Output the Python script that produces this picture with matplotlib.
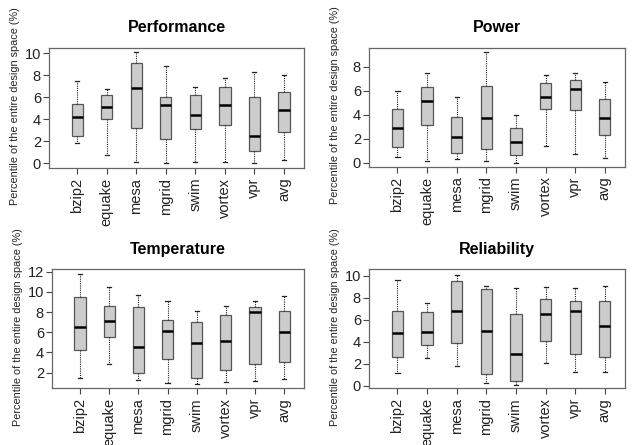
import matplotlib
matplotlib.use("Agg")
import matplotlib.pyplot as plt

plt.rcParams["font.family"] = ["Liberation Sans", "DejaVu Sans"]

BENCHES = ["bzip2", "equake", "mesa", "mgrid", "swim", "vortex", "vpr", "avg"]

# five-number summaries per bench: whisker low, q1, median, q3, whisker high
PERF_LO = [1.8, 0.7, 0.1, 0.0, 0.1, 0.1, 0.0, 0.3]
PERF_Q1 = [2.5, 4.0, 3.2, 2.2, 3.1, 3.5, 1.1, 2.8]
PERF_MED = [4.2, 5.1, 6.8, 5.3, 4.4, 5.3, 2.5, 4.8]
PERF_Q3 = [5.4, 6.2, 9.1, 6.0, 6.2, 6.9, 6.0, 6.5]
PERF_HI = [7.5, 6.7, 10.1, 8.8, 6.9, 7.7, 8.3, 8.0]

POW_LO = [0.5, 0.1, 0.3, 0.1, 0.0, 1.4, 0.7, 0.4]
POW_Q1 = [1.3, 3.1, 0.8, 1.1, 0.6, 4.5, 4.4, 2.3]
POW_MED = [2.9, 5.1, 2.1, 3.7, 1.7, 5.5, 6.1, 3.7]
POW_Q3 = [4.5, 6.3, 3.8, 6.4, 2.9, 6.6, 6.9, 5.3]
POW_HI = [6.0, 7.5, 5.5, 9.2, 4.0, 7.3, 7.5, 6.7]

TEMP_LO = [1.5, 2.9, 1.3, 1.0, 0.9, 1.1, 1.2, 1.4]
TEMP_Q1 = [4.2, 5.5, 2.0, 3.4, 1.5, 2.3, 2.9, 3.1]
TEMP_MED = [6.5, 7.1, 4.5, 6.1, 4.9, 5.1, 8.0, 6.0]
TEMP_Q3 = [9.5, 8.6, 8.5, 7.2, 7.0, 7.7, 8.5, 8.1]
TEMP_HI = [11.8, 10.5, 9.7, 9.1, 8.1, 8.6, 9.1, 9.6]

REL_LO = [1.2, 2.5, 1.8, 0.3, 0.1, 2.1, 1.3, 1.3]
REL_Q1 = [2.6, 3.7, 3.9, 1.1, 0.4, 4.1, 2.9, 2.6]
REL_MED = [4.8, 4.9, 6.8, 5.0, 2.9, 6.5, 6.8, 5.4]
REL_Q3 = [6.8, 6.7, 9.5, 8.8, 6.5, 7.9, 7.7, 7.7]
REL_HI = [9.6, 7.5, 10.1, 9.1, 8.9, 9.0, 8.9, 9.1]

W, H = 638, 445


def make_stats(lo, q1, med, q3, hi):
    return [
        dict(whislo=a, q1=b, med=c, q3=d, whishi=e, fliers=[])
        for a, b, c, d, e in zip(lo, q1, med, q3, hi)
    ]


def add_panel(fig, px, title, stats, ylim, yticks):
    left, right, top, bottom = px
    ax = fig.add_axes([left / W, 1 - bottom / H, (right - left) / W, (bottom - top) / H])
    ax.bxp(
        stats,
        positions=range(1, len(stats) + 1),
        widths=0.38,
        patch_artist=True,
        showfliers=False,
        capwidths=0.14,
        boxprops=dict(facecolor="#cccccc", edgecolor="#555555", linewidth=0.9),
        medianprops=dict(color="black", linewidth=1.8),
        whiskerprops=dict(color="#222222", linewidth=0.8, linestyle=(0, (1.0, 1.0))),
        capprops=dict(color="#222222", linewidth=0.9),
    )
    ax.set_xlim(0.05, 8.68)
    ax.set_ylim(*ylim)
    ax.set_yticks(yticks)
    ax.set_xticks(range(1, len(BENCHES) + 1))
    ax.set_xticklabels(BENCHES, rotation=90, fontsize=10.5, color="#222222")
    ax.tick_params(axis="y", labelsize=10.5, labelcolor="#222222", length=4, width=0.8,
                   color="#444444", pad=2)
    ax.tick_params(axis="x", length=4, width=0.8, color="#444444", pad=3)
    for s in ax.spines.values():
        s.set_color("#666666")
        s.set_linewidth(0.9)
    ax.set_title(title, fontsize=11.5, fontweight="bold", pad=11)
    fig.text((left - 34) / W, 1 - ((top + bottom) / 2 - 2) / H,
             "Percentile of the entire design space (%)",
             rotation=90, ha="center", va="center", fontsize=7.8, color="#222222")
    return ax


fig = plt.figure(figsize=(W / 100, H / 100), dpi=100)

add_panel(fig, (49.3, 304, 47.7, 168), "Performance",
          make_stats(PERF_LO, PERF_Q1, PERF_MED, PERF_Q3, PERF_HI),
          (-0.45, 10.5), [0, 2, 4, 6, 8, 10])
add_panel(fig, (369.3, 625, 47.7, 166.7), "Power",
          make_stats(POW_LO, POW_Q1, POW_MED, POW_Q3, POW_HI),
          (-0.35, 9.58), [0, 2, 4, 6, 8])
add_panel(fig, (52.3, 304, 269.3, 388.3), "Temperature",
          make_stats(TEMP_LO, TEMP_Q1, TEMP_MED, TEMP_Q3, TEMP_HI),
          (0.45, 12.24), [2, 4, 6, 8, 10, 12])
add_panel(fig, (369.3, 625, 269.3, 388.3), "Reliability",
          make_stats(REL_LO, REL_Q1, REL_MED, REL_Q3, REL_HI),
          (-0.22, 10.58), [0, 2, 4, 6, 8, 10])

fig.savefig("out.png", dpi=100)
